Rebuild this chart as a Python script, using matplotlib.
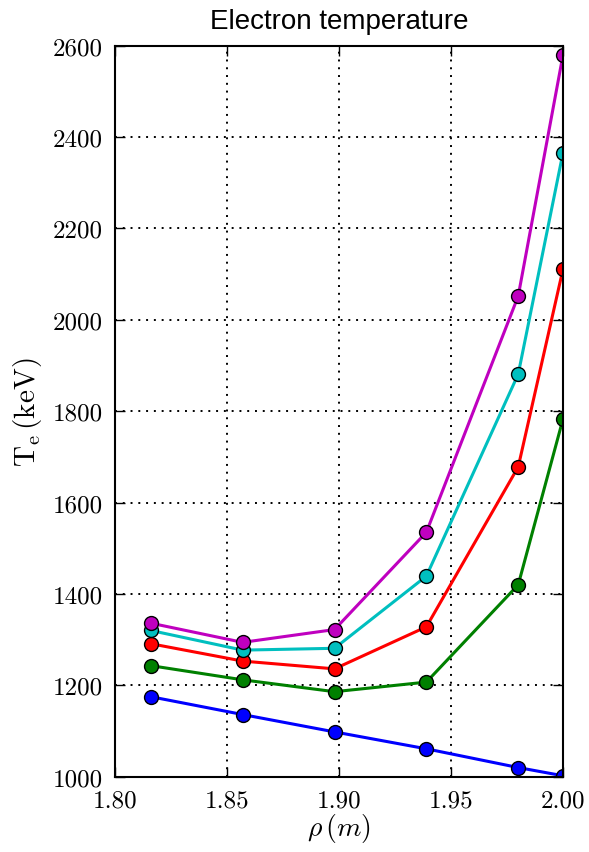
import matplotlib
matplotlib.use('Agg')
import matplotlib.pyplot as plt

# Dados
rho = [1.816, 1.857, 1.898, 1.939, 1.980, 2.000]
te_azul = [1175, 1136, 1098, 1061, 1020, 1002]
te_verde = [1243, 1212, 1186, 1207, 1420, 1783]
te_vermelho = [1291, 1253, 1236, 1328, 1678, 2111]
te_ciano = [1320, 1277, 1281, 1439, 1881, 2366]
te_magenta = [1336, 1294, 1322, 1535, 2052, 2580]

series = [te_azul, te_verde, te_vermelho, te_ciano, te_magenta]
cores = ['#0000ff', '#008000', '#ff0000', '#00bfbf', '#bf00bf']

plt.rcParams['mathtext.fontset'] = 'cm'
plt.rcParams['axes.unicode_minus'] = False

fig = plt.figure(figsize=(5.89, 8.53), dpi=100)
ax = fig.add_axes([0.1952, 0.0883, 0.7607, 0.8570])

for valores, cor in zip(series, cores):
    ax.plot(rho, valores, '-o', color=cor, lw=2.2, markersize=10,
            markeredgecolor='black', markeredgewidth=1)

ax.set_xlim(1.80, 2.00)
ax.set_ylim(1000, 2600)
ax.set_xticks([1.80, 1.85, 1.90, 1.95, 2.00])
ax.set_xticklabels(['1.80', '1.85', '1.90', '1.95', '2.00'])
ax.set_yticks(range(1000, 2601, 200))

# grade pontilhada esparsa, estilo clássico
ax.grid(True, linestyle=(0, (1, 3)), color='black', lw=1.4)
ax.set_axisbelow(True)
ax.tick_params(direction='in', length=7, width=1, top=True, right=True, pad=9)
for lbl in ax.get_xticklabels() + ax.get_yticklabels():
    lbl.set_fontfamily('cmr10')
    lbl.set_fontsize(18)
for s in ax.spines.values():
    s.set_linewidth(1.5)

ax.set_title('Electron temperature', fontsize=20, family='Liberation Sans', pad=13)
ax.set_xlabel(r'$\rho\,(m)$', fontsize=20, labelpad=0)
ax.set_ylabel(r'$\mathrm{T_e\,(keV)}$', fontsize=21, labelpad=6)

fig.savefig('out.png', dpi=100)
